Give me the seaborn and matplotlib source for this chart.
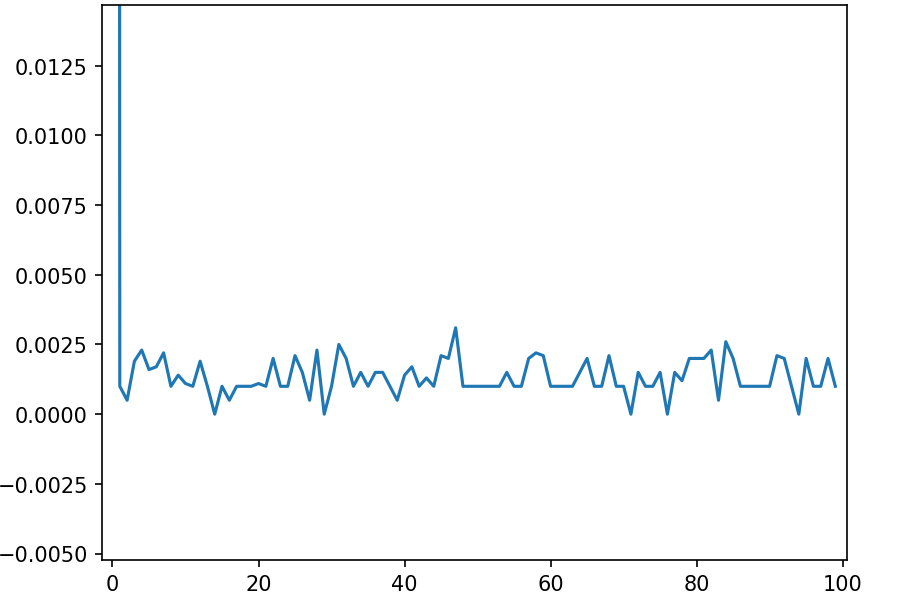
import matplotlib
matplotlib.use("Agg")
import matplotlib.pyplot as plt
import numpy as np
import pandas as pd
import seaborn as sns

# values, one per step (step 0 is far above the visible range)
steps = list(range(100))
values = [
    0.5, 0.0010, 0.0005, 0.0019, 0.0023, 0.0016, 0.0017, 0.0022, 0.0010, 0.0014,
    0.0011, 0.0010, 0.0019, 0.0010, 0.0000, 0.0010, 0.0005, 0.0010, 0.0010, 0.0010,
    0.0011, 0.0010, 0.0020, 0.0010, 0.0010, 0.0021, 0.0015, 0.0005, 0.0023, 0.0000,
    0.0010, 0.0025, 0.0020, 0.0010, 0.0015, 0.0010, 0.0015, 0.0015, 0.0010, 0.0005,
    0.0014, 0.0017, 0.0010, 0.0013, 0.0010, 0.0021, 0.0020, 0.0031, 0.0010, 0.0010,
    0.0010, 0.0010, 0.0010, 0.0010, 0.0015, 0.0010, 0.0010, 0.0020, 0.0022, 0.0021,
    0.0010, 0.0010, 0.0010, 0.0010, 0.0015, 0.0020, 0.0010, 0.0010, 0.0021, 0.0010,
    0.0010, 0.0000, 0.0015, 0.0010, 0.0010, 0.0015, 0.0000, 0.0015, 0.0012, 0.0020,
    0.0020, 0.0020, 0.0023, 0.0005, 0.0026, 0.0020, 0.0010, 0.0010, 0.0010, 0.0010,
    0.0010, 0.0021, 0.0020, 0.0010, 0.0000, 0.0020, 0.0010, 0.0010, 0.0020, 0.0010,
]

df = pd.DataFrame({"step": steps, "value": values})

fig, ax = plt.subplots(figsize=(6.02, 3.993), dpi=150)
fig.subplots_adjust(left=0.1135, right=0.938, top=0.9905, bottom=0.064)

sns.lineplot(data=df, x="step", y="value", ax=ax, color="#1f77b4", linewidth=1.5)

ax.set_xlim(-1.37, 100.6)
ax.set_ylim(-0.00522, 0.01469)
ax.set_xlabel("")
ax.set_ylabel("")
ax.set_yticks([-0.005, -0.0025, 0, 0.0025, 0.005, 0.0075, 0.01, 0.0125])
ax.set_yticklabels(["\u22120.0050", "\u22120.0025", "0.0000", "0.0025", "0.0050",
                    "0.0075", "0.0100", "0.0125"])

fig.savefig("out.png", dpi=150)
